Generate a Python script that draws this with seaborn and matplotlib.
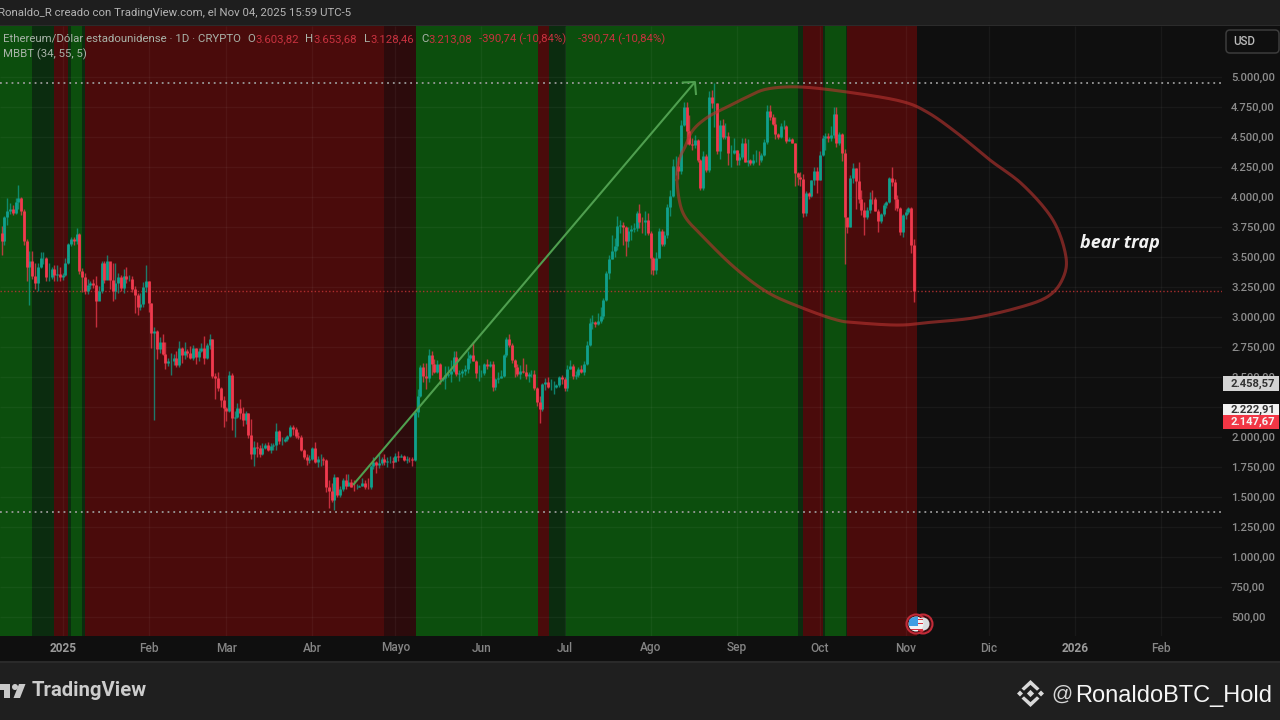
import numpy as np, pandas as pd
import matplotlib
matplotlib.use("Agg")
import matplotlib.pyplot as plt
from matplotlib.patches import Rectangle, Circle, FancyBboxPatch, Polygon
from matplotlib.ticker import FuncFormatter, FixedLocator
import seaborn as sns

# ---------- data: daily candles, one list per month ----------
month_starts = ["2024-12-09","2025-01-01","2025-02-01","2025-03-01","2025-04-01","2025-05-01","2025-06-01",
                "2025-07-01","2025-08-01","2025-09-01","2025-10-01","2025-11-01"]
close_m = [
 [3700,3630,3830,3880,3900,3870,3960,3990,3880,3630,3420,3470,3340,3280,3420,3490,3490,3330,3330,3400,3350,3360,3330],
 [3350,3450,3610,3650,3630,3690,3380,3330,3220,3270,3280,3270,3130,3220,3450,3310,3470,3310,3215,3280,3330,3240,3340,3320,3320,3230,3180,3080,3110,3250,3300],
 [3120,2870,2880,2730,2790,2690,2620,2630,2630,2660,2600,2740,2680,2720,2700,2660,2740,2670,2720,2740,2660,2770,2820,2510,2490,2410,2310,2240],
 [2220,2520,2160,2170,2240,2200,2140,2200,2020,1860,1920,1910,1860,1910,1935,1890,1925,1930,2050,1965,1965,1980,2005,2080,2065,2010,2000,1895,1830,1805,1820],
 [1905,1795,1815,1815,1805,1580,1550,1475,1670,1520,1565,1645,1595,1625,1585,1580,1585,1590,1615,1585,1580,1755,1795,1770,1785,1820,1795,1800,1800,1795],
 [1840,1835,1840,1810,1820,1815,1810,2205,2345,2580,2510,2495,2680,2610,2545,2605,2480,2495,2520,2525,2550,2665,2525,2530,2550,2565,2660,2680,2630,2530,2530],
 [2530,2610,2590,2610,2420,2480,2490,2510,2680,2815,2770,2645,2580,2525,2550,2545,2510,2525,2525,2410,2295,2230,2445,2460,2420,2420,2420,2435,2500,2485],
 [2405,2570,2590,2510,2515,2570,2545,2610,2770,2950,2955,2940,2970,3010,3140,3370,3480,3550,3590,3760,3770,3750,3630,3715,3730,3745,3870,3795,3790,3810,3700],
 [3490,3390,3495,3720,3610,3680,3915,4010,4260,4260,4220,4600,4750,4550,4440,4430,4475,4310,4075,4340,4225,4830,4780,4780,4380,4600,4500,4510,4365,4370,4390],
 [4310,4330,4450,4295,4310,4280,4305,4310,4305,4350,4460,4715,4670,4610,4525,4500,4590,4590,4470,4480,4450,4200,4165,4150,3870,4030,4010,4140,4215,4145],
 [4350,4490,4510,4490,4520,4690,4450,4525,4370,3830,3750,4155,4245,4130,3980,3890,3830,3890,3985,3980,3880,3800,3855,3930,3955,4155,4125,3980,3905,3710,3850],
 [3875,3905,3603.82,3213.08],
]
high_m = [
 [4000,3760,3840,3990,3950,3930,3990,4100,4000,3900,3650,3550,3550,3450,3450,3540,3540,3500,3450,3420,3430,3430,3420],
 [3370,3490,3620,3670,3670,3745,3700,3410,3370,3320,3300,3320,3340,3260,3470,3470,3520,3450,3450,3450,3370,3350,3400,3420,3350,3340,3260,3200,3200,3290,3430],
 [3300,3120,2920,2890,2830,2860,2790,2660,2700,2690,2720,2800,2750,2790,2730,2760,2770,2740,2740,2780,2840,2780,2860,2820,2530,2540,2420,2340],
 [2250,2550,2530,2220,2280,2320,2250,2220,2200,2150,1970,1960,1930,1950,1950,1960,1950,1950,2120,2060,2000,2000,2020,2100,2100,2080,2040,2020,1900,1860,1850],
 [1920,1960,1840,1860,1830,1820,1640,1620,1690,1670,1590,1660,1690,1690,1650,1640,1610,1600,1660,1640,1660,1770,1830,1800,1860,1830,1860,1830,1840,1830],
 [1870,1880,1860,1850,1840,1830,1830,2210,2400,2600,2620,2620,2730,2720,2650,2640,2620,2500,2590,2590,2640,2720,2720,2560,2570,2600,2720,2690,2790,2640,2600],
 [2560,2620,2650,2630,2630,2490,2540,2560,2690,2830,2860,2780,2650,2610,2600,2660,2610,2540,2560,2560,2420,2340,2450,2490,2500,2480,2470,2440,2510,2520],
 [2500,2600,2640,2610,2550,2580,2600,2630,2800,2990,3020,2970,3030,3080,3160,3380,3520,3680,3660,3840,3810,3790,3760,3750,3770,3780,3880,3940,3830,3880,3870],
 [3720,3500,3540,3740,3730,3720,3940,4060,4320,4340,4330,4640,4790,4790,4680,4490,4520,4480,4320,4380,4360,4880,4890,4950,4780,4640,4650,4620,4540,4430,4490],
 [4390,4370,4490,4490,4480,4320,4360,4390,4380,4370,4480,4770,4770,4690,4670,4530,4620,4640,4600,4500,4490,4450,4210,4210,4190,4050,4040,4140,4250,4250],
 [4380,4520,4530,4530,4590,4750,4750,4540,4530,4400,3820,4180,4280,4240,4290,4060,3960,3920,4040,4060,4000,3900,3870,3950,3970,4170,4250,4150,4020,3920,3860],
 [3900,3920,3920,3653.68],
]
low_m = [
 [3515,3515,3600,3770,3860,3850,3860,3900,3850,3600,3300,3100,3320,3230,3220,3410,3440,3300,3300,3320,3300,3300,3300],
 [3310,3340,3440,3590,3600,3610,3360,3210,3190,3190,3230,3240,2920,3170,3200,3280,3320,3230,3130,3150,3200,3220,3200,3280,3300,3210,3030,3020,3060,3080,3210],
 [3040,2740,2140,2650,2700,2680,2570,2590,2520,2600,2580,2580,2620,2650,2670,2650,2640,2610,2630,2710,2610,2650,2730,2490,2320,2380,2250,2080],
 [2130,2210,2060,2000,2160,2150,2090,2110,1990,1820,1760,1830,1830,1850,1900,1880,1870,1890,1890,1940,1930,1960,1970,2000,2020,1990,1980,1880,1820,1770,1780],
 [1810,1780,1750,1760,1770,1540,1410,1460,1390,1500,1500,1550,1570,1590,1580,1550,1570,1580,1590,1570,1570,1570,1730,1700,1740,1770,1770,1750,1780,1740],
 [1800,1800,1830,1800,1780,1790,1760,1800,2170,2330,2460,2400,2460,2520,2530,2530,2440,2470,2400,2500,2460,2540,2510,2470,2500,2520,2530,2620,2630,2490,2470],
 [2500,2520,2570,2580,2380,2390,2450,2490,2500,2670,2750,2620,2500,2510,2480,2530,2480,2460,2500,2390,2260,2120,2220,2390,2410,2390,2360,2410,2420,2440],
 [2380,2380,2570,2480,2480,2500,2530,2520,2600,2760,2900,2920,2930,2950,2980,3130,3320,3480,3500,3560,3700,3600,3510,3580,3640,3710,3720,3740,3700,3680,3680],
 [3360,3350,3360,3490,3590,3590,3660,3840,4000,4180,4150,4190,4590,4440,4430,4390,4410,4290,4060,4060,4210,4210,4740,4580,4360,4320,4480,4480,4270,4250,4360],
 [4270,4270,4320,4290,4260,4270,4270,4290,4270,4290,4340,4440,4640,4600,4480,4480,4490,4570,4450,4470,4450,4090,4100,4090,3830,3840,3980,4000,4100,4030],
 [4140,4340,4390,4460,4470,4490,4420,4430,4300,3440,3700,3750,4120,3900,3950,3850,3680,3820,3870,3940,3880,3710,3780,3840,3910,3950,4090,3890,3880,3680,3670],
 [3820,3860,3530,3128.46],
]
first_open = 3515.0

# regime bands: (first day, last day, kind), days counted from 2025-01-01
band_start = [-30,-11,-3, 2, 3, 7, 8,116,127.5,171.5,175.5,181.5,265,267,274,275,282.5,283]
band_end   = [-11,-3,  2, 3, 7, 8,116,127.5,171.5,175.5,181.5,265,267,274,275,282.5,283,308]
band_kind  = ["g","dg","r","dg","g","dg","r","dr","g","r","dg","g","dg","r","dg","g","dg","r"]
band_color = {"g":"#0c4e0d","dg":"#0b2c0f","r":"#4a0b0b","dr":"#2c0b0c"}

month_ticks = ["2025-01-01","2025-02-01","2025-03-01","2025-04-01","2025-05-01","2025-06-01","2025-07-01",
               "2025-08-01","2025-09-01","2025-10-01","2025-11-01","2025-12-01","2026-01-01","2026-02-01"]
month_labels = ["2025","Feb","Mar","Abr","Mayo","Jun","Jul","Ago","Sep","Oct","Nov","Dic","2026","Feb"]
price_ticks = [500,750,1000,1250,1500,1750,2000,2250,2500,2750,3000,3250,3500,3750,4000,4250,4500,4750,5000]

peak_line = 4947
low_line = 1378
last_close = 3213.08

arrow_day = [104.7, 228.0]
arrow_price = [1600, 4958]
head_day = [223.3, 228.0, 228.4]
head_price = [4954, 4958, 4850]

loop_day = [221.5,222.3,224.4,227.3,232.7,239.6,246.8,254,265.9,282.8,302,311.7,322.5,334.4,346.3,357.1,361.8,
            360.4,355,344.2,328.3,313.9,302,287.5,279.2,265.9,254,242.5,231,223.7]
loop_price = [4142,4308,4417,4558,4667,4750,4833,4900,4917,4875,4800,4708,4533,4308,4100,3808,3500,
              3308,3167,3075,2992,2958,2933,2950,2975,3083,3208,3408,3667,3867]

# ---------- build tables ----------
origin = pd.Timestamp("2025-01-01")
days, c, h, l = [], [], [], []
for s, cm, hm, lm in zip(month_starts, close_m, high_m, low_m):
    d0 = (pd.Timestamp(s) - origin).days
    for i, (a, b, e) in enumerate(zip(cm, hm, lm)):
        days.append(d0 + i); c.append(a); h.append(b); l.append(e)
o = [first_open] + c[:-1]
candles = pd.DataFrame({"day": days, "o": o, "h": h, "l": l, "c": c})
candles["dir"] = np.where(candles.c >= candles.o, "up", "down")
wicks = pd.concat([candles.assign(price=candles.h), candles.assign(price=candles.l)])
bodies = pd.concat([candles.assign(price=candles.o), candles.assign(price=candles.c)])

# ---------- figure ----------
BG = "#0f0f0f"
sns.set_theme(style="dark", rc={"lines.solid_capstyle": "butt", "axes.facecolor": BG, "figure.facecolor": BG,
                                "savefig.facecolor": BG})
plt.rcParams["font.family"] = ["Roboto", "DejaVu Sans"]
W, H = 1280, 720
fig = plt.figure(figsize=(W/100, H/100), dpi=100)
ax = fig.add_axes([0, (H-636)/H, 1222/W, 610/H])
PXD, X0 = 2.773, 62.7
ax.set_xlim((0-X0)/PXD, (1222-X0)/PXD)
PXP, Y0 = 0.12, 77
ax.set_ylim(5000-(636-Y0)/PXP, 5000-(26-Y0)/PXP)

for s, e, k in zip(band_start, band_end, band_kind):
    ax.axvspan(s, e, color=band_color[k], lw=0, zorder=0)

def price_fmt(v, p):
    if v == 2250:      # sits under the price tags
        return ""
    return f"{v:,.2f}".replace(",", "§").replace(".", ",").replace("§", ".")

ax.set_axisbelow(False)
ax.yaxis.set_major_locator(FixedLocator(price_ticks))
ax.yaxis.set_major_formatter(FuncFormatter(price_fmt))
ax.yaxis.tick_right()
ax.xaxis.set_major_locator(FixedLocator([(pd.Timestamp(t)-origin).days for t in month_ticks]))
ax.set_xticklabels([])
ax.tick_params(axis="y", length=0, pad=6.5, labelsize=8.1, labelcolor="#8c8c8c")
ax.tick_params(axis="x", length=0)
for lab in ax.get_yticklabels():
    lab.set_fontweight("medium")
ax.grid(True, color="#ffffff", alpha=0.045, lw=1, zorder=1)
for sp in ax.spines.values():
    sp.set_visible(False)

ax.axhline(last_close, color="#c03333", lw=1.0, ls=(0, (1, 1.6)), alpha=0.85, zorder=1.5)
for lv in (peak_line, low_line):
    ax.axhline(lv, color="#9a9a9a", lw=1.3, ls=(0, (1, 2.2)), zorder=1.5)

pal = {"up": "#10a08c", "down": "#f03a4e"}
sns.lineplot(data=wicks, x="day", y="price", units="day", hue="dir", palette=pal, estimator=None, sort=False,
             lw=1.0, alpha=0.75, legend=False, ax=ax, zorder=3)
sns.lineplot(data=bodies, x="day", y="price", units="day", hue="dir", palette=pal, estimator=None, sort=False,
             lw=2.0, legend=False, ax=ax, zorder=4)
ax.set_xlabel(""); ax.set_ylabel("")
ax.set_xlim((0-X0)/PXD, (1222-X0)/PXD)

# arrow
sns.lineplot(x=arrow_day, y=arrow_price, color="#4f9f4f", lw=1.5, estimator=None, sort=False, ax=ax, zorder=5)
sns.lineplot(x=head_day, y=head_price, color="#4f9f4f", lw=1.5, estimator=None, sort=False, ax=ax, zorder=5)

# hand-drawn loop: rounded through the read points (Catmull-Rom)
P = np.column_stack([loop_day, loop_price]).astype(float)
n = len(P); t = np.linspace(0, 1, 12, endpoint=False)[:, None]
seg = []
for i in range(n):
    p0, p1, p2, p3 = P[(i-1) % n], P[i], P[(i+1) % n], P[(i+2) % n]
    seg.append(0.5*((2*p1) + (p2-p0)*t + (2*p0-5*p1+4*p2-p3)*t**2 + (3*p1-p0-3*p2+p3)*t**3))
seg = np.vstack(seg + [P[:1]])
ax.plot(seg[:, 0], seg[:, 1], color="#b8332f", alpha=0.62, lw=2.2, zorder=5, solid_capstyle="round")

ax.text((1080-X0)/PXD, 5000-(243-Y0)/PXP, "bear trap", color="#f2f2f2", fontsize=13, fontweight="bold",
        fontstyle="italic", family="Open Sans", va="center", ha="left", zorder=6)

# ---------- overlay in pixel coordinates: header, footer, tags ----------
ov = fig.add_axes([0, 0, 1, 1], zorder=10)
ov.set_xlim(0, W); ov.set_ylim(H, 0); ov.axis("off"); ov.patch.set_alpha(0)

ov.add_patch(Rectangle((0, 0), W, 25, color="#1e1e1e", lw=0))
ov.add_patch(Rectangle((0, 25), W, 1.2, color="#2b2b2b", lw=0))
ov.add_patch(Rectangle((0, 662), W, 58, color="#1f1f1f", lw=0))
ov.add_patch(Rectangle((0, 661), W, 1.5, color="#2a2a2a", lw=0))
ov.text(-2, 13, "Ronaldo_R creado con TradingView.com, el Nov 04, 2025 15:59 UTC-5", color="#b4b4b4",
        fontsize=8.2, va="center", ha="left")

def leg(x, s, col="#a9b3a9", y=39):
    ov.text(x, y, s, color=col, fontsize=8.2, va="center", ha="left")
RED = "#c8323f"
leg(3, "Ethereum/Dólar estadounidense · 1D · CRYPTO")
for x, s in [(247, "O"), (305, "H"), (364, "L"), (421, "C")]:
    leg(x, s)
for x, s in [(255, "3.603,82"), (313, "3.653,68"), (370, "3.128,46"), (428, "3.213,08"),
             (479, "-390,74 (-10,84%)"), (578, "-390,74 (-10,84%)")]:
    leg(x, s, RED)
leg(3, "MBBT (34, 55, 5)", y=54)

for t, lab in zip(month_ticks, month_labels):
    x = X0 + (pd.Timestamp(t)-origin).days*PXD
    bold = lab in ("2025", "2026")
    ov.text(x, 648, lab, color="#9a9a9a" if bold else "#858585", fontsize=8.6, va="center", ha="center",
            fontweight="bold" if bold else "medium")

# USD box
ov.add_patch(FancyBboxPatch((1226, 30), 53, 23, boxstyle="round,pad=0,rounding_size=4", fc=BG, ec="#3c3c3c", lw=1.1))
ov.text(1244, 41.5, "USD", color="#bcbcbc", fontsize=8.3, va="center", ha="center", fontweight="medium")

# price tags
for (y0, y1, fc, tc, s) in [(376, 391, "#d4d4d4", "#333333", "2.458,57"),
                             (404, 414.5, "#f2f2f2", "#333333", "2.222,91"),
                             (414.5, 429, "#f23645", "#f5f5f5", "2.147,67")]:
    ov.add_patch(Rectangle((1223, y0), 56, y1-y0, color=fc, lw=0))
    ov.text(1231, (y0+y1)/2 if s != "2.222,91" else 410, s, color=tc, fontsize=8.1, va="center", ha="left",
            fontweight="bold", clip_on=True,
            clip_path=Rectangle((1223, y0), 56, y1-y0, transform=ov.transData))

# flag icons
for cx in (923, 916):
    ov.add_patch(Circle((cx, 624), 9.5, fc="#3a0d12", ec="#c22b38", lw=1.5))
ov.add_patch(Circle((923, 624), 6.5, fc="#d9dde0", ec="none"))
ov.add_patch(Circle((916, 624), 7.5, fc="#f2f2f2", ec="none"))
ov.add_patch(Polygon([(909, 620), (912, 617.5), (918, 616.5), (918, 626), (909, 626)], fc="#3f9fe3", ec="none"))
for yy in (618.5, 622.5, 629):
    ov.add_patch(Rectangle((918, yy), 5, 1.6, color="#d8303e", lw=0))
ov.add_patch(Rectangle((911, 628.5), 11, 1.6, color="#d8303e", lw=0))

# TradingView logo + word
LOGO = "#c9c9c9"
ov.add_patch(Rectangle((-2, 684), 12, 6, color=LOGO, lw=0))
ov.add_patch(Rectangle((4, 684), 6, 14, color=LOGO, lw=0))
ov.add_patch(Circle((15, 687), 3, color=LOGO, lw=0))
ov.add_patch(Polygon([(19, 684), (25.5, 684), (20, 698), (13.5, 698)], color=LOGO, lw=0))
ov.text(32, 691, "TradingView", color="#cccccc", fontsize=14.6, fontweight="bold", va="center", ha="left",
        family="Roboto")

# Binance mark + handle
BIN = "#d9d9d9"
cx, cy = 1030.5, 693.5
def diamond(x, y, r):
    ov.add_patch(Polygon([(x-r, y), (x, y-r), (x+r, y), (x, y+r)], color=BIN, lw=0))
diamond(cx, cy, 3.6); diamond(cx-10.5, cy, 3); diamond(cx+10.5, cy, 3)
for sgn in (-1, 1):
    ov.add_patch(Polygon([(cx-9, cy+sgn*5), (cx, cy+sgn*13.5), (cx+9, cy+sgn*5), (cx+6.5, cy+sgn*2.8),
                          (cx, cy+sgn*8.6), (cx-6.5, cy+sgn*2.8)], color=BIN, lw=0))
ov.text(1051, 694, "@", color="#d6d6d6", fontsize=15, va="center", ha="left", family="Liberation Sans")
ov.text(1075, 696, "RonaldoBTC_Hold", color="#f5f5f5", fontsize=17, va="center", ha="left", family="Liberation Sans")

fig.savefig("out.png", dpi=100)
